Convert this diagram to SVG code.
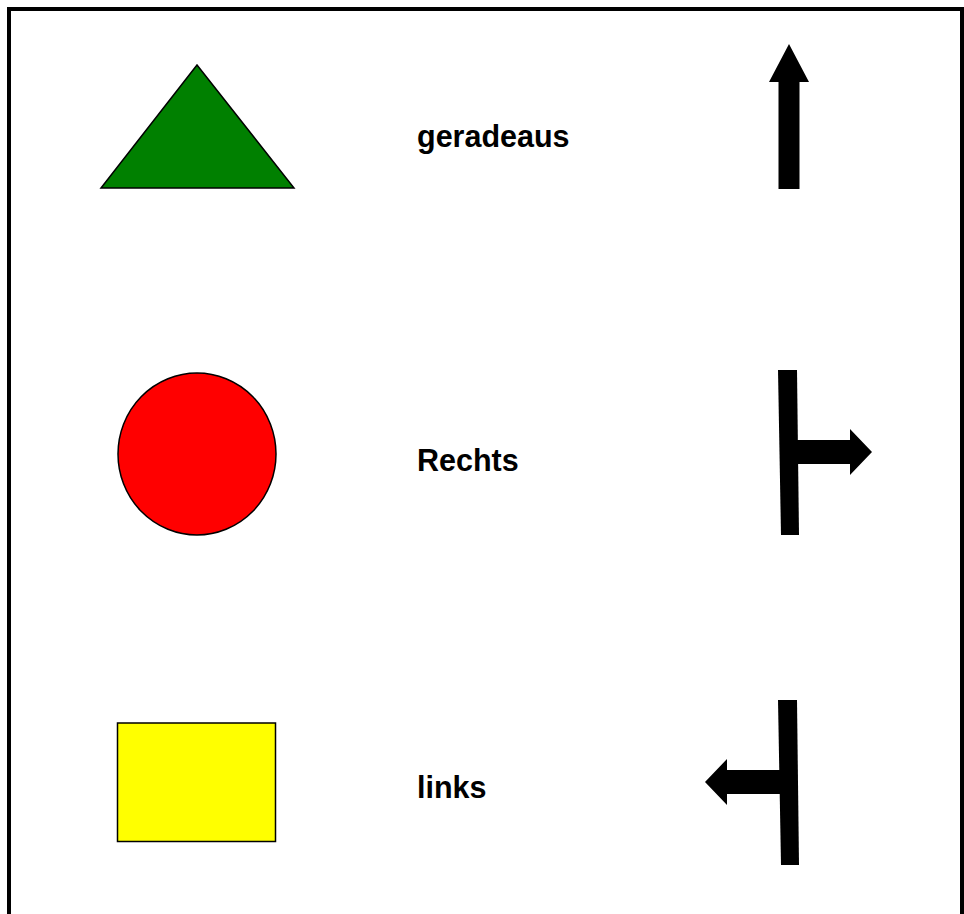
<svg xmlns="http://www.w3.org/2000/svg" width="964" height="914" viewBox="0 0 964 914">
<style>
.lbl{font-family:"Liberation Sans",Arial,sans-serif;font-weight:bold;font-size:30.5px;fill:#000}
.shape{stroke:#000;stroke-width:1.5}
.arr{fill:#000;stroke:none}
</style>
<rect x="0" y="0" width="964" height="914" fill="#fff"/>
<rect x="9" y="9" width="953" height="920" fill="none" stroke="#000" stroke-width="4"/>
<g id="triangle"><polygon class="shape" points="197,65 101,188 294,188" fill="#008000"/></g>
<g id="circle"><ellipse class="shape" cx="197" cy="454" rx="79" ry="81" fill="#ff0000"/></g>
<g id="square"><rect class="shape" x="117.5" y="723" width="158" height="118.5" fill="#ffff00" stroke="#222"/></g>
<g id="label-geradeaus"><text class="lbl" x="417" y="147">geradeaus</text></g>
<g id="label-rechts"><text class="lbl" x="417" y="471">Rechts</text></g>
<g id="label-links"><text class="lbl" x="417" y="797.5">links</text></g>
<g id="connectors">
<g id="arrow-straight"><polygon class="arr" points="789,44 809,82 799.5,82 799.5,189 778.5,189 778.5,82 769,82"/></g>
<g id="arrow-right">
<polygon class="arr" points="778,370 797,370 799,535 781,535"/>
<polygon class="arr" points="797,440 850,440 850,429 872,452 850,475 850,464 797,464"/>
</g>
<g id="arrow-left">
<polygon class="arr" points="778,700 797,700 799,865 781,865"/>
<polygon class="arr" points="780,770 727,770 727,759 705,782 727,805 727,794 780,794"/>
</g>
</g>
</svg>
